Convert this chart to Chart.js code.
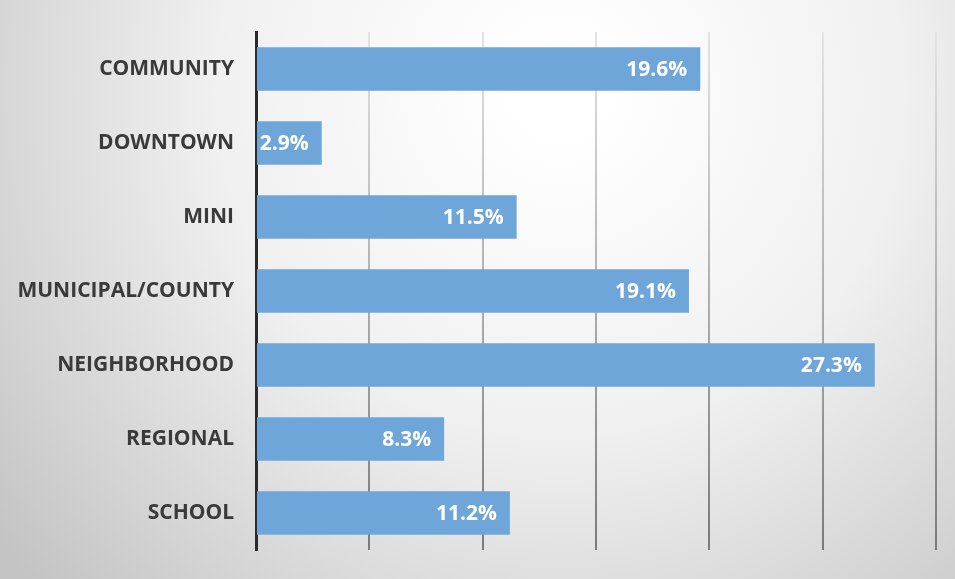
<!DOCTYPE html>
<html lang="en">
<head>
    <meta charset="UTF-8">
    <title>Park types</title>
    <script src="https://cdn.jsdelivr.net/npm/chart.js"></script>
    <style>
        html, body {
            margin: 0;
            padding: 0;
            background: #ffffff;
        }

        .wrap {
            width: 955px;
            height: 579px;
        }
    </style>
</head>
<body>
    <div class="wrap">
        <canvas id="parkChart" width="955" height="579"></canvas>
    </div>

    <script>
        const categories = ['COMMUNITY', 'DOWNTOWN', 'MINI', 'MUNICIPAL/COUNTY', 'NEIGHBORHOOD', 'REGIONAL', 'SCHOOL'];
        const shares = [19.6, 2.9, 11.5, 19.1, 27.3, 8.3, 11.2];
        const axisMax = 30;
        const axisStep = 5;

        // soft gray backdrop, lighter towards the top middle
        const backdrop = {
            id: 'backdrop',
            beforeDraw(chart) {
                const c = chart.ctx;
                const w = chart.width, h = chart.height;
                c.save();
                const g = c.createRadialGradient(560, 90, 40, 560, 90, 720);
                g.addColorStop(0, '#ffffff');
                g.addColorStop(0.45, '#f0f0f0');
                g.addColorStop(1, '#c4c4c4');
                c.fillStyle = g;
                c.fillRect(0, 0, w, h);
                c.restore();
            }
        };

        // value labels at the inside end of each bar
        const barLabels = {
            id: 'barLabels',
            afterDatasetsDraw(chart) {
                const c = chart.ctx;
                const meta = chart.getDatasetMeta(0);
                c.save();
                c.font = 'bold 21px "Open Sans"';
                c.fillStyle = '#ffffff';
                c.textAlign = 'right';
                c.textBaseline = 'middle';
                meta.data.forEach((bar, i) => {
                    c.fillText(shares[i].toFixed(1) + '%', bar.x - 13, bar.y + 1);
                });
                c.restore();
            }
        };

        function gridColor(ctx) {
            const chart = ctx.chart;
            const area = chart.chartArea;
            if (!area) return '#bbbbbb';
            const g = chart.ctx.createLinearGradient(0, area.top, 0, area.bottom);
            g.addColorStop(0, '#e4e4e4');
            g.addColorStop(1, '#7a7a7a');
            return g;
        }

        const ctx = document.getElementById('parkChart').getContext('2d');
        new Chart(ctx, {
            type: 'bar',
            data: {
                labels: categories,
                datasets: [{
                    data: shares,
                    backgroundColor: '#6fa6da',
                    borderWidth: 0,
                    categoryPercentage: 0.586,
                    barPercentage: 1
                }]
            },
            options: {
                indexAxis: 'y',
                responsive: false,
                animation: false,
                layout: {
                    padding: { top: 32, bottom: 29, right: 19, left: 0 }
                },
                plugins: {
                    legend: { display: false },
                    tooltip: { enabled: false }
                },
                scales: {
                    x: {
                        min: 0,
                        max: axisMax,
                        ticks: { display: false, stepSize: axisStep },
                        border: { display: false },
                        grid: { color: gridColor, lineWidth: 2, drawTicks: false },
                        afterFit(scale) {
                            scale.height = 0;
                            scale.paddingLeft = 0;
                            scale.paddingRight = 0;
                        }
                    },
                    y: {
                        ticks: {
                            color: '#3a3a3a',
                            padding: 22,
                            font: { family: 'Open Sans', size: 21, weight: 'bold' }
                        },
                        grid: { display: false, drawTicks: false },
                        border: { color: '#2a2a2a', width: 3 },
                        afterFit(scale) {
                            // fixed label column, no extra padding top/bottom
                            scale.width = 256;
                            scale.paddingTop = 0;
                            scale.paddingBottom = 0;
                        }
                    }
                }
            },
            plugins: [backdrop, barLabels]
        });
    </script>
</body>
</html>
